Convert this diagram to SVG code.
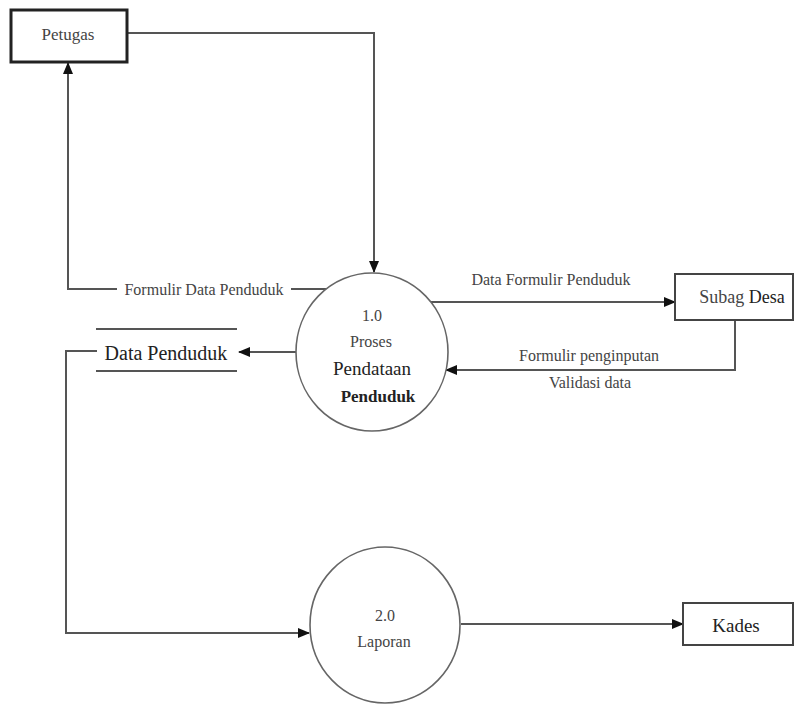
<svg xmlns="http://www.w3.org/2000/svg" width="794" height="704" viewBox="0 0 794 704">
<style>
.ln{fill:none;stroke:#555;stroke-width:2}
.box{fill:#fff;stroke:#444;stroke-width:2}
.proc{fill:#fff;stroke:#666;stroke-width:1.6}
.t{font-family:"Liberation Serif","Times New Roman",serif;fill:#444;text-anchor:middle;dominant-baseline:central}
.d{fill:#222}
.bg{fill:#fff}
</style>
<defs>
<marker id="ah" markerUnits="userSpaceOnUse" markerWidth="12" markerHeight="10" refX="11" refY="5" orient="auto">
<path d="M0,0 L12,5 L0,10 Z" fill="#111"/>
</marker>
</defs>
<g id="connectors">
<path class="ln" d="M127,33 H374 V272" marker-end="url(#ah)"/>
<path class="ln" d="M330,289 H68 V63" marker-end="url(#ah)"/>
<rect class="bg" x="117" y="280" width="174" height="18"/>
<text class="t" x="204" y="289" font-size="16">Formulir Data Penduduk</text>
<path class="ln" d="M429,302 H675" stroke-width="3.5" stroke="#666" marker-end="url(#ah)"/>
<text class="t" x="551" y="279" font-size="16">Data Formulir Penduduk</text>
<path class="ln" d="M735,320 V370 H446" marker-end="url(#ah)"/>
<rect class="bg" x="543" y="373" width="95" height="18"/>
<text class="t" x="589" y="355" font-size="16">Formulir penginputan</text>
<text class="t" x="590" y="382" font-size="16">Validasi data</text>
<path class="ln" d="M296,352 H239" marker-end="url(#ah)"/>
<path class="ln" d="M97,351 H66 V633 H309" marker-end="url(#ah)"/>
<path class="ln" d="M461,624 H683" marker-end="url(#ah)"/>
</g>
<g id="petugas">
<rect x="11" y="10" width="116" height="52" fill="#fff" stroke="#222" stroke-width="3"/>
<text class="t" x="68" y="34" font-size="17">Petugas</text>
</g>
<g id="proses1">
<ellipse class="proc" cx="372" cy="352" rx="76" ry="79"/>
<text class="t" x="372" y="315" font-size="16">1.0</text>
<text class="t" x="371" y="341" font-size="16">Proses</text>
<text class="t d" x="372" y="368" font-size="19">Pendataan</text>
<text class="t d" x="378" y="396" font-size="17" font-weight="bold">Penduduk</text>
</g>
<g id="data-penduduk">
<line x1="96" y1="329" x2="237" y2="329" stroke="#555" stroke-width="2"/>
<line x1="96" y1="371" x2="237" y2="371" stroke="#555" stroke-width="2"/>
<text class="t d" x="166" y="353" font-size="20">Data Penduduk</text>
</g>
<g id="subag-desa">
<rect class="box" x="675" y="274" width="118" height="46"/>
<text class="t" x="742" y="297" font-size="18">Subag <tspan fill="#222">Desa</tspan></text>
</g>
<g id="laporan">
<ellipse class="proc" cx="385" cy="625" rx="75" ry="78"/>
<text class="t" x="385" y="615" font-size="16">2.0</text>
<text class="t" x="384" y="641" font-size="16">Laporan</text>
</g>
<g id="kades">
<rect class="box" x="683" y="603" width="110" height="42"/>
<text class="t d" x="736" y="625" font-size="19">Kades</text>
</g>
</svg>
